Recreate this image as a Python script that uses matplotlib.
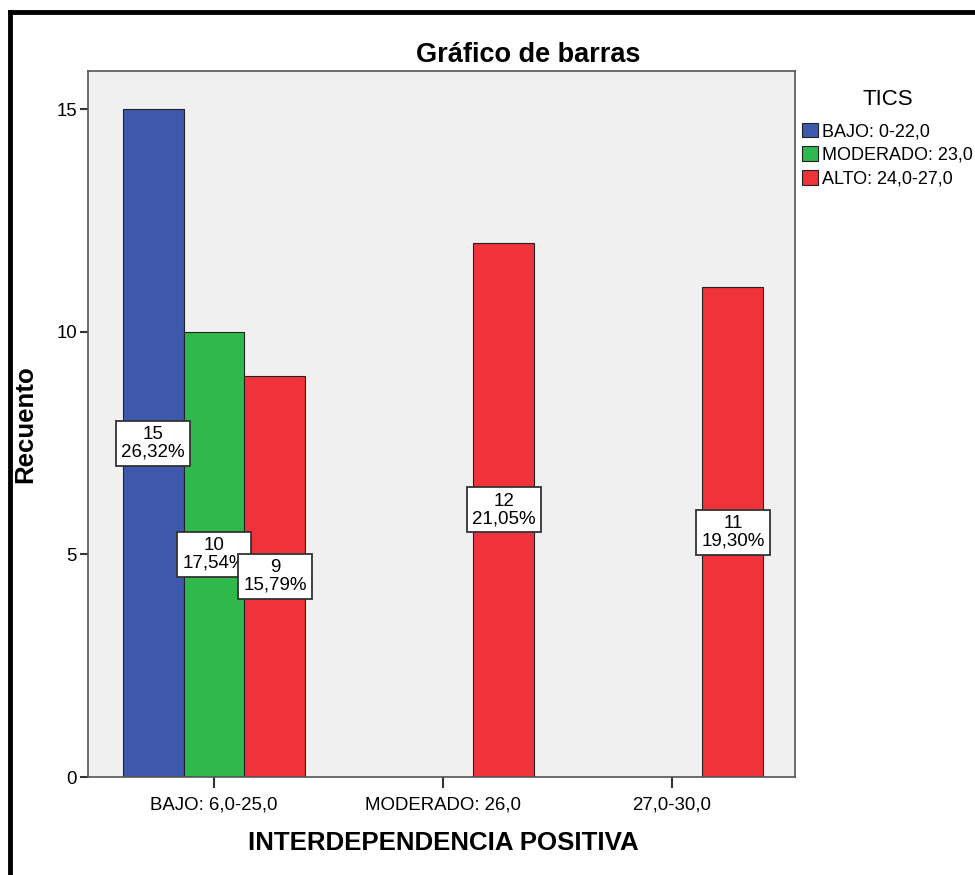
import matplotlib.pyplot as plt
from matplotlib.lines import Line2D
import numpy as np

plt.rcParams['font.family'] = ['Liberation Sans', 'DejaVu Sans']

# categories on the x axis and the three TICS groups
categorias = ["BAJO: 6,0-25,0", "MODERADO: 26,0", "27,0-30,0"]
grupos = ["BAJO: 0-22,0", "MODERADO: 23,0", "ALTO: 24,0-27,0"]
bajo = [15, 0, 0]
moderado = [10, 0, 0]
alto = [9, 12, 11]
colores = ["#3E58AC", "#2FB84B", "#F0323A"]
total = 57

fig = plt.figure(figsize=(9.75, 8.75), dpi=100)
ax = fig.add_axes([0.0903, 0.112, 0.7251, 0.8065])
ax.set_facecolor("#F0F0F0")

x = np.arange(len(categorias))
ancho = 0.266
series = [bajo, moderado, alto]
for i, (valores, color, nombre) in enumerate(zip(series, colores, grupos)):
    pos = x + (i - 1) * ancho
    ax.bar(pos, valores, width=ancho, color=color, edgecolor="#222222",
           linewidth=0.8, label=nombre, zorder=2)
    for px, v in zip(pos, valores):
        if v == 0:
            continue
        pct = f"{100 * v / total:.2f}".replace(".", ",")
        ax.text(px, v / 2, f"{v}\n{pct}%", ha="center", va="center",
                fontsize=13.5, linespacing=1.05, zorder=4,
                bbox=dict(boxstyle="square,pad=0.28", facecolor="white",
                          edgecolor="#333333", linewidth=1.3))

ax.set_xlim(-0.55, 2.537)
ax.set_ylim(0, 15.85)
ax.set_xticks(x)
ax.set_xticklabels(categorias)
ax.set_yticks([0, 5, 10, 15])
ax.tick_params(axis="x", length=8, width=1.5, color="#333333", labelsize=13.4, pad=6)
ax.tick_params(axis="y", length=6, width=1.5, color="#333333", labelsize=13.4, pad=2)
for s in ax.spines.values():
    s.set_color("#555555")
    s.set_linewidth(1.2)

fig.text(0.5415, 0.937, "Gráfico de barras", ha="center", va="center",
         fontsize=19.5, fontweight="bold")
fig.text(0.026, 0.515, "Recuento", ha="center", va="center", rotation=90,
         fontsize=18.6, fontweight="bold")
fig.text(0.455, 0.036, "INTERDEPENDENCIA POSITIVA", ha="center", va="center",
         fontsize=18.6, fontweight="bold")

leg = fig.legend(loc="upper left", bbox_to_anchor=(0.823, 0.891), frameon=False,
                 title="TICS", fontsize=13, title_fontsize=16, borderpad=0,
                 handlelength=0.85, handleheight=0.85, handletextpad=0.25,
                 labelspacing=0.35, borderaxespad=0)
leg.get_title().set_position((0, 6))

# black frame on top and left
fig.add_artist(Line2D([0.0103, 0.0103], [0, 0.9868], color="black", lw=3.5,
                      transform=fig.transFigure))
fig.add_artist(Line2D([0.0103, 1], [0.9868, 0.9868], color="black", lw=3.5,
                      transform=fig.transFigure))

fig.savefig("out.png", dpi=100)
